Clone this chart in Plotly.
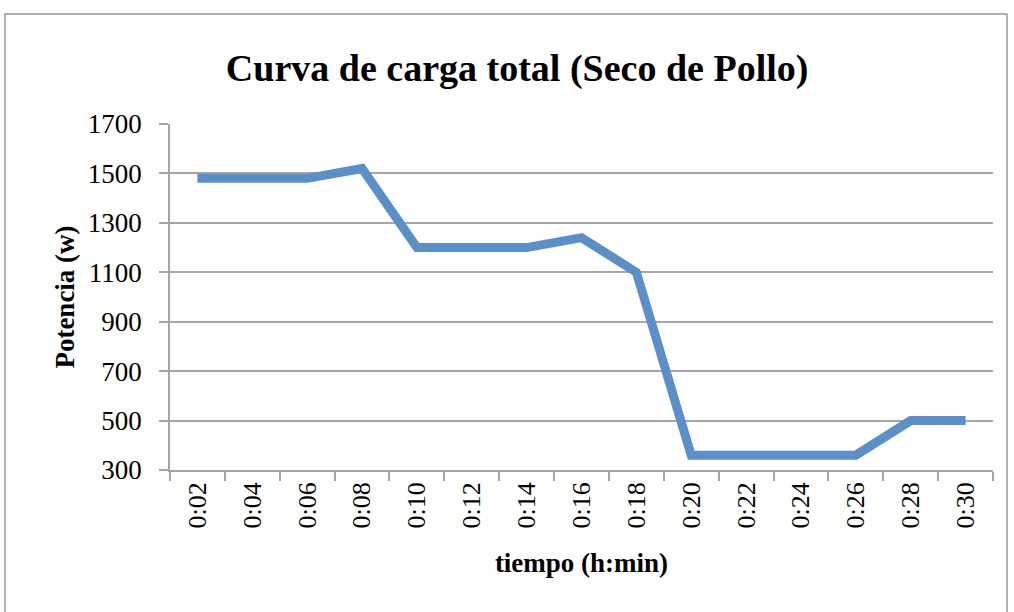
import plotly.graph_objects as go

categories = ["0:02", "0:04", "0:06", "0:08", "0:10", "0:12", "0:14", "0:16",
              "0:18", "0:20", "0:22", "0:24", "0:26", "0:28", "0:30"]
potencia = [1480, 1480, 1480, 1520, 1200, 1200, 1200, 1240,
            1100, 360, 360, 360, 360, 500, 500]
y_ticks = [300, 500, 700, 900, 1100, 1300, 1500, 1700]

serif = "Liberation Serif, DejaVu Serif, serif"
grid = "#A6A6A6"

fig = go.Figure()
fig.add_trace(go.Scatter(
    x=categories, y=potencia, mode="lines",
    line=dict(color="#5B8FC7", width=9),
    showlegend=False, hoverinfo="x+y",
))

fig.update_layout(
    width=1014, height=612,
    margin=dict(l=170, r=21, t=124, b=142, autoexpand=False),
    paper_bgcolor="white", plot_bgcolor="white",
    title=dict(text="<b>Curva de carga total (Seco de Pollo)</b>",
               x=0.51, xanchor="center", y=0.889, yanchor="middle",
               font=dict(family=serif, size=38, color="black")),
    font=dict(family=serif, color="black"),
)
fig.update_xaxes(
    type="category", range=[-0.5, 14.5],
    tickangle=-90, tickfont=dict(size=26, family=serif),
    ticks="outside", ticklen=9, tickcolor=grid, tickwidth=1.5,
    tickson="boundaries",
    showline=True, linecolor=grid, linewidth=1.5,
    showgrid=False,
    title=dict(text="<b>tiempo (h:min)</b>", font=dict(size=27, family=serif), standoff=26),
)
fig.update_yaxes(
    range=[300, 1700], tickvals=y_ticks,
    tickfont=dict(size=27, family=serif),
    ticks="outside", ticklen=9, tickcolor=grid, tickwidth=1.5,
    ticklabelstandoff=12,
    showline=True, linecolor=grid, linewidth=1.5,
    showgrid=True, gridcolor=grid, gridwidth=1.5,
    zeroline=False,
    title=dict(text="<b>Potencia (w)</b>", font=dict(size=27, family=serif), standoff=5),
)
# outer chart border
fig.add_shape(type="rect", xref="paper", yref="paper",
              x0=(5 - 170) / 823, x1=(1007 - 170) / 823,
              y0=-0.6, y1=(470 - 14) / 346,
              line=dict(color="#999999", width=1.5), layer="below")

fig.write_html("out.html", config={"displayModeBar": False},
               post_script="document.body.style.margin='0';document.body.style.overflow='hidden';")
